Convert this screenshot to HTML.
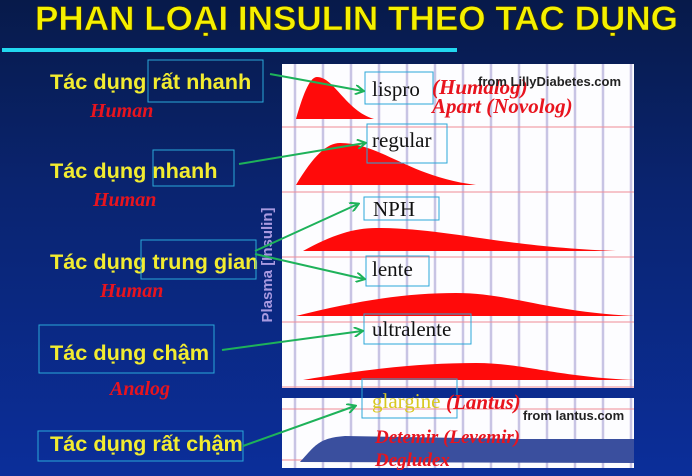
<!DOCTYPE html>
<html><head><meta charset="utf-8"><style>
html,body{margin:0;padding:0;width:692px;height:476px;overflow:hidden}
body{background:linear-gradient(180deg,#071a4a 0%,#0a2470 40%,#0b2e9a 100%);font-family:"Liberation Sans",sans-serif}
svg{position:absolute;left:0;top:0}
</style></head><body>
<svg width="692" height="476" viewBox="0 0 692 476">
<defs><marker id="ah" markerWidth="10" markerHeight="10" refX="8" refY="5" orient="auto" markerUnits="userSpaceOnUse"><path d="M0,0 L9,5 L0,10" fill="none" stroke="#1eb25a" stroke-width="2"/></marker></defs>
<text x="35" y="30" textLength="643" lengthAdjust="spacingAndGlyphs" font-size="34" font-weight="bold" fill="#f5f000" stroke="#3a3000" stroke-width="0.6">PHAN LOẠI INSULIN THEO TAC DỤNG</text>
<rect x="2" y="48" width="455" height="4" fill="#22d8f0"/>
<rect x="282" y="64" width="352" height="324" fill="#fdfdff"/>
<rect x="282" y="398" width="352" height="70" fill="#fdfdff"/>
<g id="grid"></g>
<g id="curves"></g>
<text transform="translate(272,265) rotate(-90)" text-anchor="middle" font-size="15" font-weight="bold" fill="#a99ae0">Plasma [Insulin]</text>
<g font-family="'Liberation Serif',serif" font-size="21" fill="#111">
<rect x="365" y="72" width="68" height="32" fill="none" stroke="#2aa8d8"/>
<text x="372" y="96">lispro</text>
<rect x="367" y="124" width="80" height="39" fill="none" stroke="#2aa8d8"/>
<text x="372" y="147">regular</text>
<rect x="364" y="197" width="75" height="23" fill="none" stroke="#2aa8d8"/>
<text x="373" y="216">NPH</text>
<rect x="366" y="256" width="63" height="30" fill="none" stroke="#2aa8d8"/>
<text x="372" y="276">lente</text>
<rect x="364" y="314" width="107" height="30" fill="none" stroke="#2aa8d8"/>
<text x="372" y="336">ultralente</text>
<rect x="362" y="379" width="95" height="39" fill="none" stroke="#2aa8d8"/>
<text x="372" y="408" fill="#d8c820">glargine</text>
</g>
<g font-family="'Liberation Serif',serif" font-style="italic" font-weight="bold" fill="#e8141e">
<text x="432" y="94" font-size="21">(Humalog)</text>
<text x="432" y="113" font-size="21">Apart (Novolog)</text>
<text x="446" y="409" font-size="21">(Lantus)</text>
<text x="375" y="443" font-size="19">Detemir  (Levemir)</text>
<text x="375" y="466" font-size="19">Degludex</text>
<text x="90" y="117" font-size="20">Human</text>
<text x="93" y="206" font-size="20">Human</text>
<text x="100" y="297" font-size="20">Human</text>
<text x="110" y="395" font-size="20">Analog</text>
</g>
<text x="478" y="86" font-size="13" font-weight="bold" fill="#222">from LillyDiabetes.com</text>
<text x="523" y="420" font-size="13" font-weight="bold" fill="#222">from lantus.com</text>
<g font-size="21.7" font-weight="bold" fill="#f2ec30">
<text x="50" y="89">Tác dụng rất nhanh</text>
<rect x="148" y="60" width="115" height="42" fill="none" stroke="#2aa8d8"/>
<text x="50" y="178">Tác dụng  nhanh</text>
<rect x="153" y="150" width="81" height="36" fill="none" stroke="#2aa8d8"/>
<text x="50" y="269">Tác dụng trung gian</text>
<rect x="141" y="240" width="115" height="39" fill="none" stroke="#2aa8d8"/>
<text x="50" y="360">Tác dụng chậm</text>
<rect x="39" y="325" width="175" height="48" fill="none" stroke="#2aa8d8"/>
<text x="50" y="451">Tác dụng rất chậm</text>
<rect x="38" y="431" width="205" height="30" fill="none" stroke="#2aa8d8"/>
</g>
<g stroke="#1eb25a" stroke-width="2" fill="none" marker-end="url(#ah)">
<line x1="270" y1="74" x2="363" y2="91"/>
<line x1="239" y1="164" x2="365" y2="143"/>
<line x1="255" y1="251" x2="358" y2="204"/>
<line x1="255" y1="254" x2="364" y2="279"/>
<line x1="222" y1="350" x2="362" y2="331"/>
<line x1="243" y1="446" x2="355" y2="406"/>
</g>
</svg>
<script>
// curve data: [onset time, peak time, end time, relative height] in chart units (hours-ish)
const curveNames=['lispro','regular','NPH','lente','ultralente'];
const onset=[0,0,0.35,0,0.35];
const peak=[1.05,2.2,4,8,9];
const endT=[3.9,9,16,16.9,16.9];
const height=[42,42,23,23,17];
const rowBase=[119,185,251,316,380];
const x=t=>296+t*20;
const NS='http://www.w3.org/2000/svg';
const g=document.getElementById('grid'),c=document.getElementById('curves');
for(let i=0;i<13;i++){
 [[64,388],[398,468]].forEach(([a,b])=>{
  const l=document.createElementNS(NS,'line');
  const xx=295+i*28;
  l.setAttribute('x1',xx);l.setAttribute('x2',xx);l.setAttribute('y1',a);l.setAttribute('y2',b);
  l.setAttribute('stroke','#c8c4e4');l.setAttribute('stroke-width','2.5');
  
  
  g.appendChild(l);
 });
}
[127,192,257,322,387,409,460].forEach(y=>{
 const l=document.createElementNS(NS,'line');
 l.setAttribute('x1',282);l.setAttribute('x2',634);l.setAttribute('y1',y);l.setAttribute('y2',y);
 l.setAttribute('stroke','#f08c96');l.setAttribute('stroke-width','1');
 
 
 g.appendChild(l);
});
curveNames.forEach((n,i)=>{
 const b=rowBase[i],h=height[i],x0=x(onset[i]),xp=x(peak[i]),x1=Math.min(x(endT[i]),634);
 const d=`M${x0},${b} C${x0+(xp-x0)*0.4},${b-h*0.7} ${xp-(xp-x0)*0.3},${b-h} ${xp},${b-h} C${xp+(x1-xp)*0.3},${b-h} ${xp+(x1-xp)*0.5},${b-h*0.2} ${x1},${b} Z`;
 const p=document.createElementNS(NS,'path');
 p.setAttribute('d',d);p.setAttribute('fill','#ff0a0a');
 
 
 c.appendChild(p);
});
const gl=document.createElementNS(NS,'path');
gl.setAttribute('d','M300,462 C315,446 318,438 345,436 L520,439 L634,439 L634,463 Z');
gl.setAttribute('fill','#3a4f9e');


c.appendChild(gl);
</script>
</body></html>
